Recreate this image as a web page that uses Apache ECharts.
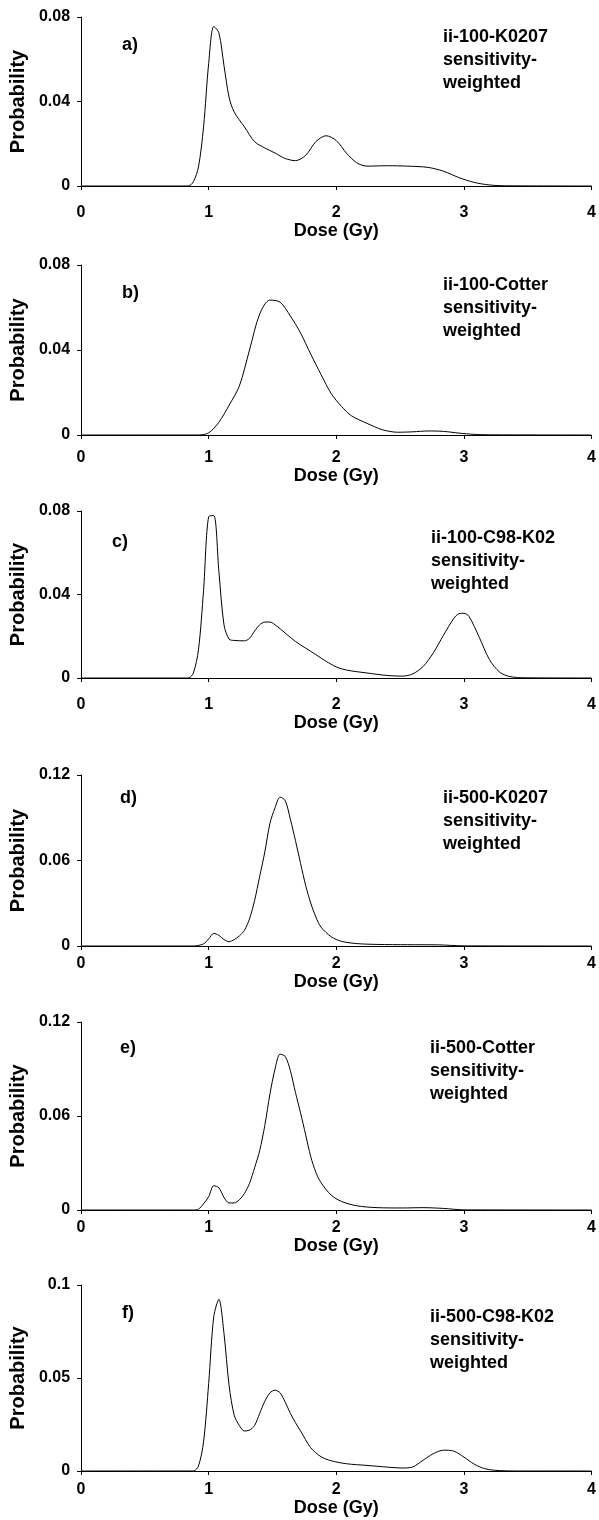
<!DOCTYPE html>
<html>
<head>
<meta charset="utf-8">
<script src="https://cdn.jsdelivr.net/npm/echarts@6/dist/echarts.min.js"></script>
<style>
html,body{margin:0;padding:0;background:#fff;}
#chart{width:599px;height:1520px;}
</style>
</head>
<body>
<div id="chart"></div>
<script>
// ---- data (dose in Gy, probability) ----
const doseA = [0, 0.84, 0.88, 0.92, 0.96, 1.00, 1.04, 1.08, 1.12, 1.16, 1.20, 1.28, 1.36, 1.44, 1.52, 1.60, 1.68, 1.76, 1.84, 1.92, 2.00, 2.08, 2.16, 2.24, 2.40, 2.56, 2.72, 2.84, 2.96, 3.08, 3.20, 3.32, 4];
const probA = [0, 0, 0.002, 0.009, 0.028, 0.058, 0.0755, 0.0725, 0.057, 0.042, 0.035, 0.028, 0.021, 0.018, 0.0156, 0.013, 0.012, 0.0145, 0.021, 0.0238, 0.0215, 0.0155, 0.011, 0.0094, 0.0096, 0.0094, 0.0088, 0.007, 0.004, 0.0017, 0.0005, 0.0001, 0];

const doseB = [0, 0.92, 1.00, 1.08, 1.16, 1.24, 1.32, 1.40, 1.48, 1.56, 1.64, 1.72, 1.80, 1.88, 1.96, 2.04, 2.12, 2.24, 2.36, 2.48, 2.60, 2.72, 2.84, 2.96, 3.08, 3.20, 4];
const probB = [0, 0, 0.001, 0.006, 0.014, 0.023, 0.040, 0.057, 0.0635, 0.0625, 0.056, 0.048, 0.038, 0.0285, 0.0195, 0.0135, 0.009, 0.0055, 0.0025, 0.0013, 0.0015, 0.0019, 0.0017, 0.0009, 0.0003, 0.0001, 0];

const doseC = [0, 0.84, 0.88, 0.92, 0.96, 1.00, 1.04, 1.08, 1.12, 1.16, 1.20, 1.28, 1.32, 1.36, 1.40, 1.44, 1.48, 1.52, 1.60, 1.68, 1.76, 1.84, 1.92, 2.00, 2.08, 2.24, 2.40, 2.52, 2.60, 2.68, 2.76, 2.84, 2.92, 2.96, 3.00, 3.04, 3.12, 3.20, 3.28, 3.36, 3.48, 4];
const probC = [0, 0, 0.0024, 0.0135, 0.042, 0.0773, 0.0778, 0.051, 0.0255, 0.0186, 0.018, 0.0178, 0.019, 0.0225, 0.0255, 0.0268, 0.0268, 0.0255, 0.0215, 0.0175, 0.0143, 0.0112, 0.008, 0.0053, 0.0038, 0.0024, 0.0012, 0.0009, 0.002, 0.0055, 0.012, 0.0205, 0.0285, 0.0308, 0.031, 0.0295, 0.0195, 0.0088, 0.0028, 0.0007, 0.0001, 0];

const doseD = [0, 0.88, 0.96, 1.00, 1.04, 1.08, 1.12, 1.16, 1.20, 1.24, 1.28, 1.32, 1.36, 1.40, 1.44, 1.48, 1.52, 1.56, 1.60, 1.64, 1.68, 1.72, 1.76, 1.80, 1.84, 1.88, 1.96, 2.04, 2.16, 2.32, 2.56, 2.80, 3.00, 4];
const probD = [0, 0, 0.0015, 0.005, 0.0088, 0.0075, 0.0045, 0.003, 0.0045, 0.007, 0.011, 0.019, 0.032, 0.049, 0.066, 0.086, 0.097, 0.1045, 0.102, 0.089, 0.074, 0.058, 0.0425, 0.030, 0.0204, 0.0133, 0.0065, 0.0033, 0.0017, 0.0011, 0.0009, 0.0008, 0.0001, 0];

const doseE = [0, 0.88, 0.92, 0.96, 1.00, 1.04, 1.08, 1.12, 1.16, 1.20, 1.24, 1.28, 1.32, 1.36, 1.40, 1.44, 1.48, 1.52, 1.56, 1.60, 1.64, 1.68, 1.72, 1.76, 1.80, 1.84, 1.88, 1.96, 2.04, 2.16, 2.32, 2.52, 2.68, 2.84, 3.00, 4];
const probE = [0, 0, 0.0005, 0.004, 0.0085, 0.0155, 0.0142, 0.008, 0.0045, 0.0045, 0.0065, 0.0105, 0.017, 0.027, 0.038, 0.054, 0.074, 0.09, 0.0995, 0.098, 0.089, 0.075, 0.062, 0.048, 0.034, 0.024, 0.0175, 0.0095, 0.0055, 0.0027, 0.0015, 0.0013, 0.0015, 0.001, 0.0001, 0];

const doseF = [0, 0.88, 0.92, 0.96, 1.00, 1.04, 1.08, 1.12, 1.16, 1.20, 1.24, 1.28, 1.32, 1.36, 1.40, 1.44, 1.48, 1.52, 1.56, 1.60, 1.64, 1.68, 1.72, 1.80, 1.88, 1.96, 2.08, 2.24, 2.40, 2.52, 2.60, 2.68, 2.76, 2.84, 2.92, 3.00, 3.08, 3.16, 3.24, 3.40, 4];
const probF = [0, 0, 0.0027, 0.0157, 0.047, 0.083, 0.0923, 0.074, 0.046, 0.030, 0.0245, 0.0215, 0.022, 0.0245, 0.031, 0.0375, 0.042, 0.0435, 0.042, 0.037, 0.031, 0.026, 0.0215, 0.0125, 0.0077, 0.0055, 0.0039, 0.003, 0.0021, 0.0016, 0.0022, 0.0058, 0.0093, 0.0112, 0.0107, 0.0075, 0.0037, 0.0013, 0.0004, 0, 0];

const panelLetters = ['a)', 'b)', 'c)', 'd)', 'e)', 'f)'];
const panelNames = ['ii-100-K0207', 'ii-100-Cotter', 'ii-100-C98-K02', 'ii-500-K0207', 'ii-500-Cotter', 'ii-500-C98-K02'];
const panelSubtitle = 'sensitivity-\nweighted';
const yMax = [0.08, 0.08, 0.08, 0.12, 0.12, 0.1];
const yInterval = [0.04, 0.04, 0.04, 0.06, 0.06, 0.05];
const xTicks = [0, 1, 2, 3, 4];
const xTitle = 'Dose (Gy)';
const yTitle = 'Probability';
const doses = [doseA, doseB, doseC, doseD, doseE, doseF];
const probs = [probA, probB, probC, probD, probE, probF];

// ---- layout (pixels) ----
const gridTop    = [17, 265, 511, 775, 1022, 1285];
const gridBottom = [186, 435, 678, 946, 1210, 1471];
const gridLeft   = [70, 70, 71, 69, 68, 72];
const gridRight  = [5, 5, 5, 6, 5, 6];
const xLabelMargin = [19, 15, 19, 10, 10, 11];
const xNameGap     = [21, 17, 22, 14, 14, 16];
const letterPos  = [[122, 36], [122, 284], [112, 533], [120, 789], [120, 1039], [122, 1304]];
const namePos    = [[443, 26], [443, 274], [431, 527], [443, 787], [430, 1037], [430, 1306]];

const FONT = '"Liberation Sans", Arial, sans-serif';
const grids = [], xAxes = [], yAxes = [], series = [], titles = [];
for (let i = 0; i < 6; i++) {
  grids.push({left: gridLeft[i], right: gridRight[i], top: gridTop[i], height: gridBottom[i] - gridTop[i], containLabel: false});
  xAxes.push({
    type: 'value', gridIndex: i, min: 0, max: 4, interval: 1,
    axisLine: {show: true, lineStyle: {color: '#000', width: 1}},
    axisTick: {show: true, inside: false, length: 4, lineStyle: {color: '#000'}},
    splitLine: {show: false},
    axisLabel: {color: '#000', fontSize: 16, fontWeight: 'bold', fontFamily: FONT, margin: xLabelMargin[i],
      formatter: v => xTicks.includes(v) ? String(v) : ''},
    name: xTitle, nameLocation: 'middle', nameGap: xNameGap[i],
    nameTextStyle: {color: '#000', fontSize: 18, fontWeight: 'bold', fontFamily: FONT}
  });
  yAxes.push({
    type: 'value', gridIndex: i, min: 0, max: yMax[i], interval: yInterval[i],
    axisLine: {show: true, lineStyle: {color: '#000', width: 1}},
    axisTick: {show: true, inside: false, length: 4, lineStyle: {color: '#000'}},
    splitLine: {show: false},
    axisLabel: {color: '#000', fontSize: 16, fontWeight: 'bold', fontFamily: FONT, margin: 11},
    name: yTitle, nameLocation: 'middle', nameGap: 40,
    nameTextStyle: {color: '#000', fontSize: 20, fontWeight: 'bold', fontFamily: FONT}
  });
  series.push({
    type: 'line', xAxisIndex: i, yAxisIndex: i,
    data: doses[i].map((d, k) => [d, probs[i][k]]),
    showSymbol: false, symbol: 'none', smooth: 0.3,
    lineStyle: {color: '#000', width: 1}, silent: true
  });
  titles.push({text: panelLetters[i], left: letterPos[i][0], top: letterPos[i][1], padding: 0,
    textStyle: {color: '#000', fontSize: 18, fontWeight: 'bold', fontFamily: FONT}});
  titles.push({text: panelNames[i] + '\n' + panelSubtitle, left: namePos[i][0], top: namePos[i][1], padding: 0,
    textStyle: {color: '#000', fontSize: 18, fontWeight: 'bold', fontFamily: FONT, lineHeight: 23}});
}

const chart = echarts.init(document.getElementById('chart'), null, {renderer: 'canvas'});
chart.setOption({
  animation: false,
  backgroundColor: '#fff',
  title: titles,
  grid: grids, xAxis: xAxes, yAxis: yAxes, series: series
});
</script>
</body>
</html>
